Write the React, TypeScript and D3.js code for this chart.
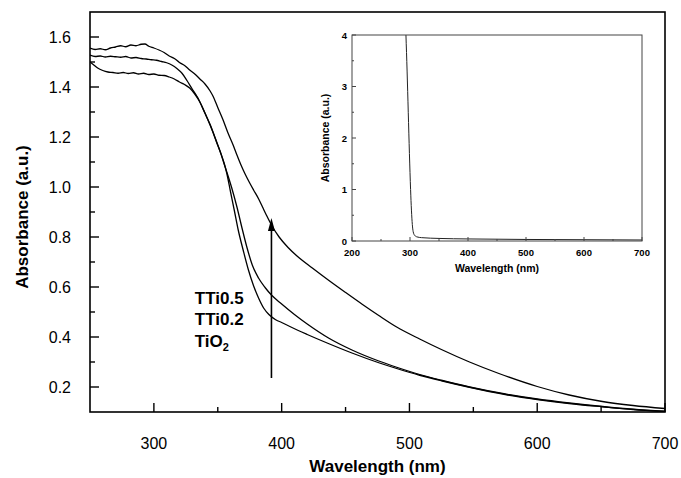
import React from "react";
import * as d3 from "d3";

// ---------- Data ----------
const tti05Wl = [250,254,258,262,266,270,274,278,282,286,290,293,296,300,304,308,312,316,320,324,328,332,336,340,344,346,350,354,358,362,365,368,371,375,378,382,385,388,392,398,405,412,424,437,450,463,476,490,508,525,547,570,600,625,651,675,700];
const tti05Abs = [1.556,1.550,1.553,1.549,1.556,1.560,1.565,1.561,1.568,1.565,1.571,1.572,1.563,1.556,1.548,1.538,1.524,1.514,1.498,1.486,1.468,1.452,1.432,1.412,1.384,1.366,1.318,1.270,1.216,1.168,1.128,1.090,1.056,1.016,0.988,0.952,0.920,0.888,0.848,0.800,0.758,0.724,0.676,0.626,0.578,0.531,0.486,0.440,0.392,0.350,0.300,0.254,0.202,0.168,0.142,0.126,0.114];

const tti02Wl = [250,254,258,262,266,270,274,278,282,286,290,294,298,302,306,310,314,318,322,326,330,334,338,342,346,349,352,355,358,361,365,369,373,377,382,387,392,400,410,420,437,455,476,490,508,525,547,575,600,625,651,675,700];
const tti02Abs = [1.528,1.522,1.524,1.520,1.523,1.521,1.519,1.522,1.516,1.518,1.514,1.512,1.509,1.507,1.502,1.497,1.488,1.474,1.455,1.425,1.392,1.360,1.318,1.272,1.222,1.180,1.140,1.092,1.045,0.995,0.920,0.835,0.755,0.688,0.635,0.598,0.568,0.532,0.490,0.452,0.395,0.348,0.304,0.279,0.250,0.227,0.200,0.172,0.152,0.136,0.122,0.111,0.103];

const tio2Wl = [250,253,256,260,264,268,272,276,280,284,288,292,296,300,304,308,312,316,320,324,328,332,336,340,344,348,352,355,357,360,363,366,370,374,378,382,386,390,395,400,406,413,420,437,455,476,490,508,525,547,575,600,625,651,675,700];
const tio2Abs = [1.500,1.488,1.476,1.466,1.460,1.458,1.455,1.458,1.454,1.457,1.452,1.455,1.450,1.452,1.447,1.446,1.440,1.432,1.420,1.410,1.396,1.372,1.340,1.295,1.250,1.196,1.140,1.095,1.056,0.980,0.905,0.828,0.745,0.668,0.605,0.555,0.515,0.490,0.470,0.458,0.443,0.426,0.410,0.373,0.336,0.297,0.274,0.247,0.225,0.199,0.170,0.150,0.134,0.121,0.110,0.102];

const insetWl = [293,295,297,299,301,302.5,304,305.5,308,312,320,350,400,500,600,700];
const insetAbs = [4.0,3.3,2.5,1.7,1.0,0.6,0.32,0.18,0.11,0.08,0.065,0.05,0.04,0.03,0.025,0.02];

const xMajor = [300, 400, 500, 600, 700];
const xMinor = [350, 450, 550, 650];
const yMajor = [0.2, 0.4, 0.6, 0.8, 1.0, 1.2, 1.4, 1.6];
const yMinor = [0.3, 0.5, 0.7, 0.9, 1.1, 1.3, 1.5];

const insetXMajor = [200, 300, 400, 500, 600, 700];
const insetXMinor = [250, 350, 450, 550, 650];
const insetYMajor = [0, 1, 2, 3, 4];
const insetYMinor = [0.5, 1.5, 2.5, 3.5];

const seriesLabels = ["TTi0.5", "TTi0.2"];

const FONT = "'Liberation Sans', Arial, Helvetica, sans-serif";

export default function App() {
  const W = 681, H = 478;
  const x = d3.scaleLinear().domain([250, 700]).range([90, 665]);
  const y = d3.scaleLinear().domain([0.1, 1.7]).range([412, 12]);

  const ix = d3.scaleLinear().domain([200, 700]).range([352, 642]);
  const iy = d3.scaleLinear().domain([0, 4]).range([241, 35]);

  const mkLine = (wl: number[], ab: number[]) =>
    d3.line<number>().x((_, i) => x(wl[i])).y((_, i) => y(ab[i])).curve(d3.curveMonotoneX)(ab) || "";

  const insetLine =
    d3.line<number>().x((_, i) => ix(insetWl[i])).y((_, i) => iy(insetAbs[i])).curve(d3.curveMonotoneX)(insetAbs) || "";

  const [x0, x1] = x.range();
  const [yb, yt] = y.range();
  const [ix0, ix1] = ix.range();
  const [iyb, iyt] = iy.range();

  const arrowX = x(392);
  const arrowBottom = y(0.236);
  const arrowTip = y(0.876);

  const labelX = x(332);

  return (
    <svg width={W} height={H} style={{ position: "absolute", left: 0, top: 0, background: "#fff" }} fontFamily={FONT}>
      <defs>
        <clipPath id="mainClip">
          <rect x={x0} y={yt} width={x1 - x0} height={yb - yt} />
        </clipPath>
        <clipPath id="insetClip">
          <rect x={ix0} y={iyt} width={ix1 - ix0} height={iyb - iyt} />
        </clipPath>
      </defs>

      {/* main curves */}
      <g clipPath="url(#mainClip)" fill="none" stroke="#000" strokeWidth={1.3}>
        <path d={mkLine(tti05Wl, tti05Abs)} />
        <path d={mkLine(tti02Wl, tti02Abs)} />
        <path d={mkLine(tio2Wl, tio2Abs)} />
      </g>

      {/* main frame */}
      <rect x={x0} y={yt} width={x1 - x0} height={yb - yt} fill="none" stroke="#000" strokeWidth={1.6} />

      {/* x ticks */}
      {xMajor.map((v) => (
        <g key={"xM" + v}>
          <line x1={x(v)} x2={x(v)} y1={yb} y2={yb - 9} stroke="#000" strokeWidth={1.4} />
          <text x={x(v)} y={449} textAnchor="middle" fontSize={16}>{v}</text>
        </g>
      ))}
      {xMinor.map((v) => (
        <line key={"xm" + v} x1={x(v)} x2={x(v)} y1={yb} y2={yb - 5} stroke="#000" strokeWidth={1.4} />
      ))}

      {/* y ticks */}
      {yMajor.map((v) => (
        <g key={"yM" + v}>
          <line x1={x0} x2={x0 + 9} y1={y(v)} y2={y(v)} stroke="#000" strokeWidth={1.4} />
          <text x={71} y={y(v) + 5.5} textAnchor="end" fontSize={16}>{v.toFixed(1)}</text>
        </g>
      ))}
      {yMinor.map((v) => (
        <line key={"ym" + v} x1={x0} x2={x0 + 5} y1={y(v)} y2={y(v)} stroke="#000" strokeWidth={1.4} />
      ))}

      {/* axis titles */}
      <text x={(x0 + x1) / 2} y={472} textAnchor="middle" fontSize={17} fontWeight="bold">Wavelength (nm)</text>
      <text transform={`translate(28,${217}) rotate(-90)`} textAnchor="middle" fontSize={17} fontWeight="bold">Absorbance (a.u.)</text>

      {/* arrow */}
      <line x1={arrowX} x2={arrowX} y1={arrowBottom} y2={arrowTip + 10} stroke="#000" strokeWidth={1.6} />
      <path d={`M${arrowX},${arrowTip} L${arrowX - 3.5},${arrowTip + 13} L${arrowX + 3.5},${arrowTip + 13} Z`} fill="#000" />

      {/* series labels */}
      {seriesLabels.map((s, i) => (
        <text key={s} x={labelX} y={303.5 + i * 21.7} fontSize={17} fontWeight="bold">{s}</text>
      ))}
      <text x={labelX} y={347} fontSize={17} fontWeight="bold">
        TiO<tspan fontSize={11} dy={4}>2</tspan>
      </text>

      {/* inset */}
      <g>
        <path d={insetLine} clipPath="url(#insetClip)" fill="none" stroke="#222" strokeWidth={1} />
        <rect x={ix0} y={iyt} width={ix1 - ix0} height={iyb - iyt} fill="none" stroke="#444" strokeWidth={1} />
        {insetXMajor.map((v) => (
          <g key={"ixM" + v}>
            <line x1={ix(v)} x2={ix(v)} y1={iyb} y2={iyb - 4} stroke="#444" strokeWidth={1} />
            <text x={ix(v)} y={256} textAnchor="middle" fontSize={9.5} fontWeight="bold">{v}</text>
          </g>
        ))}
        {insetXMinor.map((v) => (
          <line key={"ixm" + v} x1={ix(v)} x2={ix(v)} y1={iyb} y2={iyb - 2} stroke="#444" strokeWidth={1} />
        ))}
        {insetYMajor.map((v) => (
          <g key={"iyM" + v}>
            <line x1={ix0} x2={ix0 + 4} y1={iy(v)} y2={iy(v)} stroke="#444" strokeWidth={1} />
            <text x={347} y={iy(v) + 3.5} textAnchor="end" fontSize={9.5} fontWeight="bold">{v}</text>
          </g>
        ))}
        {insetYMinor.map((v) => (
          <line key={"iym" + v} x1={ix0} x2={ix0 + 2} y1={iy(v)} y2={iy(v)} stroke="#444" strokeWidth={1} />
        ))}
        <text x={(ix0 + ix1) / 2} y={272} textAnchor="middle" fontSize={10.5} fontWeight="bold">Wavelength (nm)</text>
        <text transform={`translate(329,${138}) rotate(-90)`} textAnchor="middle" fontSize={10.5} fontWeight="bold">Absorbance (a.u.)</text>
      </g>
    </svg>
  );
}
